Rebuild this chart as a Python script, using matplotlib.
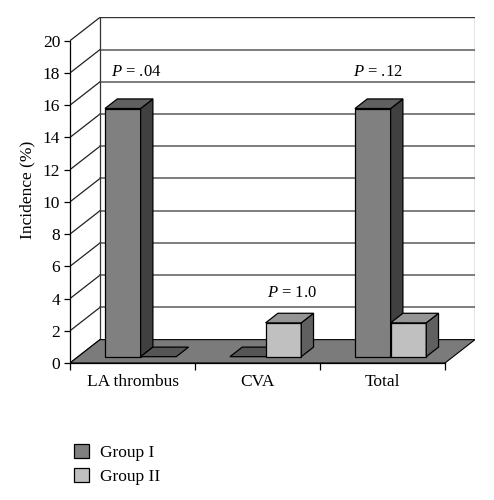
import matplotlib.pyplot as plt
from matplotlib.patches import Polygon, Patch

plt.rcParams['font.family'] = ['Liberation Serif', 'DejaVu Serif']
plt.rcParams['mathtext.fontset'] = 'custom'
plt.rcParams['mathtext.it'] = 'Liberation Serif:italic'
plt.rcParams['mathtext.rm'] = 'Liberation Serif'

# datos
categorias = ['LA thrombus', 'CVA', 'Total']
grupo_1 = [15.4, 0.0, 15.4]
grupo_2 = [0.0, 2.1, 2.1]
series = ['Group I', 'Group II']
valores_p = ['.04', '1.0', '.12']
y_ticks = list(range(0, 21, 2))

# colores (frente, lado, tapa)
colores = {
    'Group I': ('#808080', '#404040', '#606060'),
    'Group II': ('#c0c0c0', '#606060', '#959595'),
}

# efecto 3D en unidades de datos
prof_x = 0.24
prof_y = 1.45
ancho = 0.285
z0, z1 = 0.27, 0.68

fig = plt.figure(figsize=(4.94, 5.0), dpi=100)
ax = fig.add_axes([70 / 494, 137 / 500, 405 / 494, 346 / 500])
ax.set_xlim(0, 3 + prof_x)
ax.set_ylim(0, 346 / 16.115)

n = len(categorias)

# pared del fondo y lineas de la grilla
for y in y_ticks:
    ax.plot([0, prof_x], [y, y + prof_y], color='#222222', lw=0.9, zorder=1)
    if y > 0:
        ax.plot([prof_x, n + prof_x], [y + prof_y, y + prof_y], color='#5a5a5a', lw=1.1, zorder=1)
ax.plot([prof_x, prof_x], [prof_y, 20 + prof_y], color='#333333', lw=0.9, zorder=1)
ax.plot([n + prof_x, n + prof_x], [prof_y, 20 + prof_y], color='#333333', lw=0.9, zorder=1)
ax.plot([prof_x, n + prof_x], [20 + prof_y, 20 + prof_y], color='#333333', lw=1.0, zorder=1)

# piso
piso = Polygon([(0, 0), (n, 0), (n + prof_x, prof_y), (prof_x, prof_y)],
               closed=True, facecolor='#7b7b7b', edgecolor='black', lw=0.8, zorder=2)
ax.add_patch(piso)


def dibujar_barra(x0, valor, colores_barra):
    frente, lado, tapa = colores_barra
    ox, oy = z0 * prof_x, z0 * prof_y
    dx, dy = (z1 - z0) * prof_x, (z1 - z0) * prof_y
    xa, xb = x0 + ox, x0 + ox + ancho
    ya, yb = oy, oy + valor
    if valor > 0:
        ax.add_patch(Polygon([(xa, ya), (xb, ya), (xb, yb), (xa, yb)],
                             facecolor=frente, edgecolor='black', lw=0.9, zorder=3))
        ax.add_patch(Polygon([(xb, ya), (xb + dx, ya + dy), (xb + dx, yb + dy), (xb, yb)],
                             facecolor=lado, edgecolor='black', lw=0.9, zorder=3))
    ax.add_patch(Polygon([(xa, yb), (xb, yb), (xb + dx, yb + dy), (xa + dx, yb + dy)],
                         facecolor=tapa if valor > 0 else '#555555',
                         edgecolor='black', lw=0.9, zorder=3))


for i in range(n):
    centro = i + 0.5
    dibujar_barra(centro - ancho, grupo_1[i], colores['Group I'])
    dibujar_barra(centro, grupo_2[i], colores['Group II'])

# etiquetas de P
pos_p = [(0.53, 18.06), (1.78, 4.34), (2.46, 18.06)]
for (px, py), p in zip(pos_p, valores_p):
    ax.text(px, py, f'$P$ = {p}', ha='center', va='center', fontsize=12, zorder=4)

# ejes
for s in ['top', 'right']:
    ax.spines[s].set_visible(False)
ax.spines['left'].set_bounds(0, 20)
ax.spines['bottom'].set_bounds(0, n)
ax.spines['left'].set_linewidth(0.9)
ax.spines['bottom'].set_linewidth(0.9)
ax.set_yticks(y_ticks)
ax.set_yticklabels([str(v) for v in y_ticks], fontsize=12.5)
ax.tick_params(axis='y', direction='out', length=4, width=0.9, pad=3)
ax.set_xticks(range(n + 1))
ax.set_xticklabels([''] * (n + 1))
ax.tick_params(axis='x', which='major', direction='out', length=5, width=0.9)
ax.set_xticks([i + 0.5 for i in range(n)], minor=True)
ax.set_xticklabels(categorias, minor=True, fontsize=12.5)
ax.tick_params(axis='x', which='minor', length=0, pad=8)
ax.set_ylabel('Incidence (%)', fontsize=12.5, labelpad=5)

# leyenda
manejadores = [Patch(facecolor=colores[s][0], edgecolor='black', lw=0.9, label=s) for s in series]
fig.legend(handles=manejadores, loc='upper left', bbox_to_anchor=(58 / 494, 1 - 428 / 500),
           frameon=False, fontsize=12.5, handlelength=0.9, handleheight=0.9,
           handletextpad=0.6, labelspacing=0.4)

plt.savefig('out.png', dpi=100)
plt.close()
